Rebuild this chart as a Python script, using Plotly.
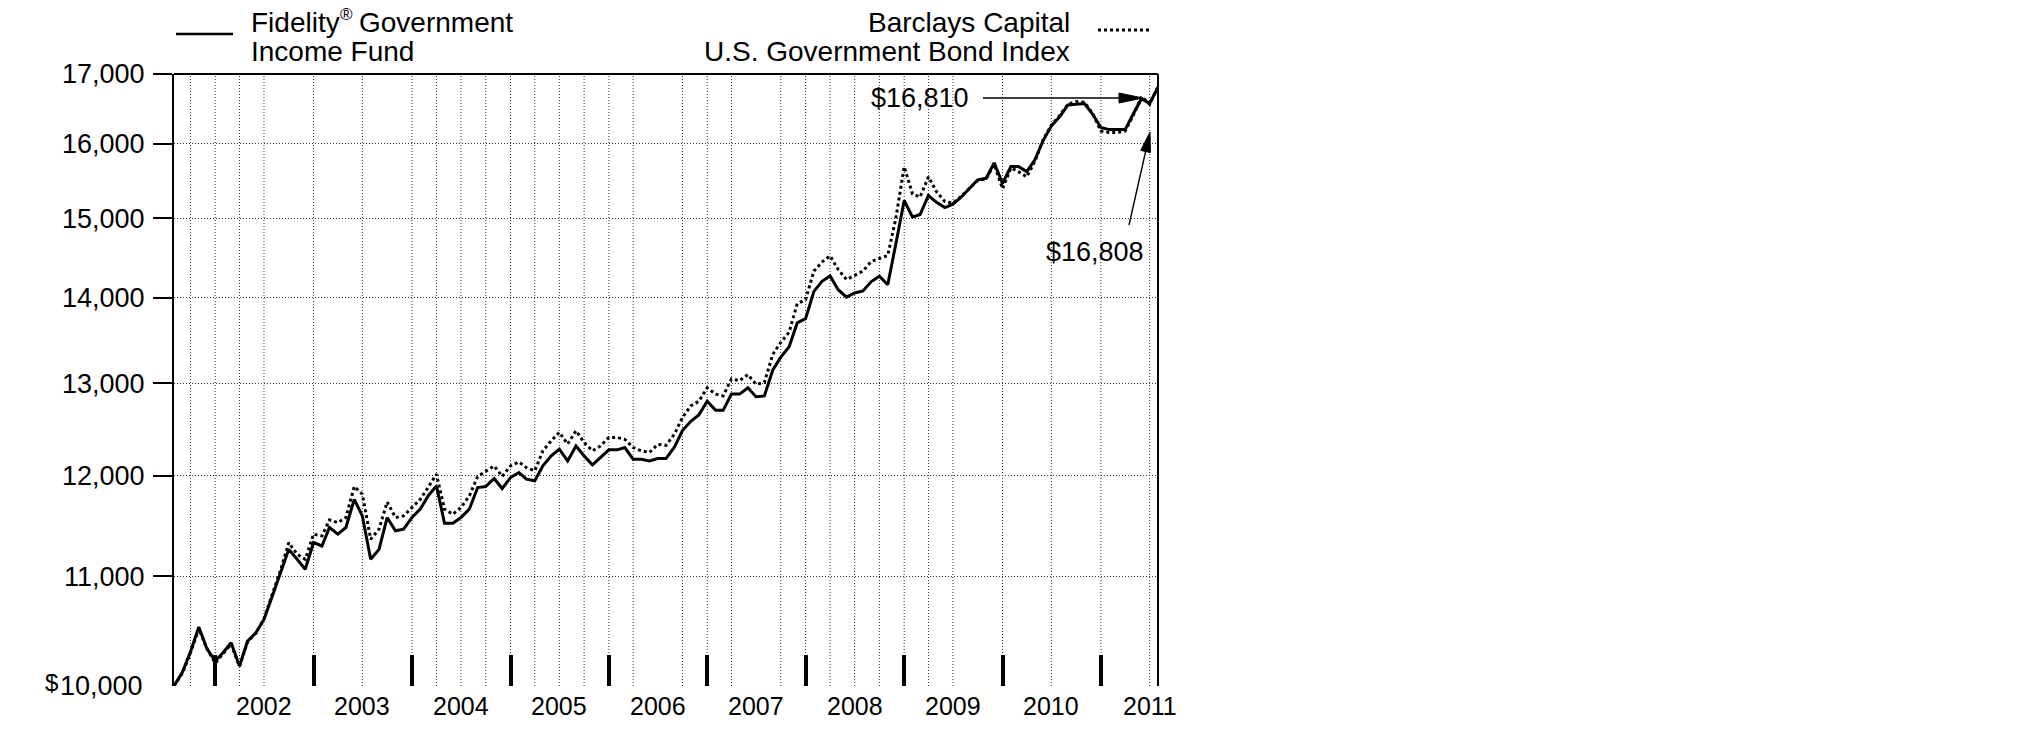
import math
import pandas as pd
import plotly.graph_objects as go

# ---------------- data ----------------
MONTHS = pd.date_range("2001-07-31", periods=121, freq="ME")

FUND = [
    10000, 10120, 10300, 10525, 10330, 10218, 10300, 10382, 10174, 10397,
    10472, 10594, 10811, 11033, 11258, 11161, 11065, 11324, 11291, 11473,
    11407, 11473, 11757, 11589, 11161, 11258, 11573, 11440, 11457, 11573,
    11657, 11791, 11895, 11516, 11516, 11573, 11657, 11878, 11888, 11971,
    11868, 11981, 12033, 11964, 11947, 12103, 12208, 12279, 12155, 12314,
    12208, 12114, 12190, 12272, 12272, 12297, 12173, 12173, 12155, 12180,
    12180, 12300, 12480, 12580, 12650, 12800, 12700, 12700, 12880, 12880,
    12950, 12850, 12860, 13150, 13300, 13420, 13700, 13750, 14080, 14200,
    14270, 14100, 14010, 14060, 14085, 14200, 14265, 14160, 14670, 15234,
    15016, 15050, 15300, 15210, 15140, 15185, 15280, 15400, 15510, 15530,
    15740, 15460, 15690, 15690, 15620, 15780, 16050, 16250, 16380, 16550,
    16560, 16570, 16420, 16230, 16200, 16200, 16200, 16420, 16640, 16570,
    16808,
]

INDEX = [
    10000, 10110, 10290, 10510, 10330, 10200, 10290, 10370, 10170, 10390,
    10470, 10600, 10830, 11060, 11324, 11210, 11161, 11407, 11390, 11549,
    11522, 11573, 11888, 11809, 11357, 11457, 11730, 11573, 11589, 11674,
    11757, 11878, 12016, 11657, 11606, 11674, 11791, 11992, 12051, 12103,
    11992, 12103, 12144, 12085, 12051, 12262, 12369, 12460, 12334, 12477,
    12352, 12262, 12314, 12405, 12405, 12385, 12297, 12262, 12245, 12330,
    12320, 12440, 12620, 12750, 12800, 12950, 12880, 12860, 13050, 13030,
    13100, 12990, 13010, 13330, 13470, 13590, 13930, 13980, 14330, 14440,
    14520, 14350, 14225, 14280, 14330, 14450, 14490, 14525, 15000, 15686,
    15320, 15280, 15550, 15350, 15220, 15200, 15290, 15400, 15500, 15520,
    15720, 15390, 15670, 15620, 15550, 15760, 16060, 16260, 16400, 16560,
    16600, 16590, 16430, 16180, 16160, 16160, 16180, 16400, 16670, 16560,
    16810,
]

Y_TICKS = [11000, 12000, 13000, 14000, 15000, 16000, 17000]
Y_TICK_TEXT = ["11,000", "12,000", "13,000", "14,000", "15,000", "16,000", "17,000"]
Y_BASE = 10000
Y_BASE_TEXT = "10,000"
CURRENCY = "$"

YEAR_LABEL_DATES = ["2002-06-30", "2003-06-30", "2004-06-30", "2005-06-30", "2006-06-30",
                    "2007-06-30", "2008-06-30", "2009-06-30", "2010-06-30", "2011-06-30"]
YEAR_LABELS = ["2002", "2003", "2004", "2005", "2006", "2007", "2008", "2009", "2010", "2011"]

YEAR_BOUNDARIES = ["2001-12-31", "2002-12-31", "2003-12-31", "2004-12-31", "2005-12-31",
                   "2006-12-31", "2007-12-31", "2008-12-31", "2009-12-31", "2010-12-31"]

GRID_DATES = ["2001-09-30", "2001-12-31", "2002-03-31", "2002-06-30", "2002-12-31",
              "2003-06-30", "2003-12-31", "2004-03-31", "2004-06-30", "2004-09-30",
              "2004-12-31", "2005-03-31", "2005-06-30", "2005-09-30", "2005-12-31",
              "2006-03-31", "2006-09-30", "2006-12-31", "2007-03-31", "2007-09-30",
              "2007-12-31", "2008-03-31", "2008-06-30", "2008-09-30", "2008-12-31",
              "2009-03-31", "2009-06-30", "2009-12-31", "2010-06-30", "2010-12-31",
              "2011-06-30"]

FUND_NAME_1A = "Fidelity"
FUND_NAME_REG = "®"
FUND_NAME_1B = "Government"
FUND_NAME_2 = "Income Fund"
INDEX_NAME_1 = "Barclays Capital"
INDEX_NAME_2 = "U.S. Government Bond Index"
FUND_END_LABEL = "$16,808"
INDEX_END_LABEL = "$16,810"

# ---------------- layout geometry ----------------
W, H = 2025, 743
L, R, T, B = 174, 867, 74, 57
PW, PH = W - L - R, H - T - B
FONT = "Liberation Sans, Arial, Helvetica, sans-serif"
GRID = "#333333"
GRID_DASH = "1px,2px"
LEG = 28


def px(xp):
    return (xp - L) / PW


def py(yp):
    return (H - B - yp) / PH


def arrow_shapes(tail, tip, head_len, half_w, width=1.4):
    dx, dy = tip[0] - tail[0], tip[1] - tail[1]
    n = math.hypot(dx, dy)
    ux, uy = dx / n, dy / n
    bx, by = tip[0] - ux * head_len, tip[1] - uy * head_len
    lx, ly = bx - uy * half_w, by + ux * half_w
    rx, ry = bx + uy * half_w, by - ux * half_w
    path = "M{:.5f},{:.5f} L{:.5f},{:.5f} L{:.5f},{:.5f} Z".format(
        px(tip[0]), py(tip[1]), px(lx), py(ly), px(rx), py(ry))
    return [
        dict(type="line", xref="paper", yref="paper", x0=px(tail[0]), y0=py(tail[1]),
             x1=px(bx + ux * 2), y1=py(by + uy * 2), line=dict(color="black", width=width)),
        dict(type="path", xref="paper", yref="paper", path=path, fillcolor="black",
             line=dict(color="black", width=1)),
    ]


def label(text, x, y, size, xanchor="left", yanchor="middle", xref="paper", yref="paper",
          yshift=0):
    return dict(text=text, xref=xref, yref=yref, x=x, y=y, xanchor=xanchor,
                yanchor=yanchor, showarrow=False, font=dict(size=size), yshift=yshift)


x_range = [MONTHS[0], MONTHS[-1]]
y_range = [math.log10(10000), math.log10(17000)]

fig = go.Figure()
fig.add_trace(go.Scatter(x=MONTHS, y=INDEX, mode="lines", name="Index",
                         line=dict(color="black", width=3, dash="dot")))
fig.add_trace(go.Scatter(x=MONTHS, y=FUND, mode="lines", name="Fund",
                         line=dict(color="black", width=3)))

fig.update_layout(
    width=W, height=H,
    margin=dict(l=L, r=R, t=T, b=B, pad=0),
    paper_bgcolor="white", plot_bgcolor="white",
    showlegend=False,
    font=dict(family=FONT, color="black", size=27),
    xaxis=dict(type="date", range=x_range, tickvals=YEAR_BOUNDARIES,
               ticks="inside", ticklen=31, tickwidth=4, tickcolor="black",
               showticklabels=False, showgrid=False, zeroline=False, showline=False),
    yaxis=dict(type="log", range=y_range, tickvals=Y_TICKS, ticktext=Y_TICK_TEXT,
               ticks="outside", ticklen=19, tickwidth=1.5, tickcolor="black",
               showgrid=True, gridcolor=GRID, gridwidth=1, griddash=GRID_DASH,
               showline=True, linecolor="black", linewidth=2, zeroline=False,
               tickfont=dict(size=27), ticklabelstandoff=3),
)

shapes = []
for d in GRID_DATES:
    shapes.append(dict(type="line", xref="x", yref="paper", x0=d, x1=d, y0=0, y1=1,
                       layer="below", line=dict(color=GRID, width=1, dash=GRID_DASH)))
shapes += [
    dict(type="line", xref="paper", yref="paper", x0=0, x1=1, y0=1, y1=1,
         line=dict(color="black", width=2)),
    dict(type="line", xref="paper", yref="paper", x0=1, x1=1, y0=0, y1=1,
         line=dict(color="black", width=2)),
    dict(type="line", xref="paper", yref="paper", x0=px(176), x1=px(233),
         y0=py(34), y1=py(34), line=dict(color="black", width=2.5)),
    dict(type="line", xref="paper", yref="paper", x0=px(1098), x1=px(1152),
         y0=py(30), y1=py(30), line=dict(color="black", width=3, dash="dot")),
]
shapes += arrow_shapes((983, 98), (1143, 98), 24, 5)
shapes += arrow_shapes((1129, 225), (1150, 132), 20, 5)
fig.update_layout(shapes=shapes)

annotations = [
    label(FUND_NAME_1A, px(249), py(22), LEG),
    label(FUND_NAME_REG, px(338), py(15), 17),
    label(FUND_NAME_1B, px(357), py(22), LEG),
    label(FUND_NAME_2, px(249), py(52), LEG),
    label(INDEX_NAME_1, px(1072), py(22), LEG, xanchor="right"),
    label(INDEX_NAME_2, px(1072), py(52), LEG, xanchor="right"),
    label(INDEX_END_LABEL, px(920), py(98), 27, xanchor="center"),
    label(FUND_END_LABEL, px(1095), py(252), 27, xanchor="center"),
    label(Y_BASE_TEXT, px(145), math.log10(Y_BASE), 27, xanchor="right", yref="y"),
    label(CURRENCY, px(60), math.log10(Y_BASE), 24, xanchor="right", yref="y", yshift=4),
]
for d, lab in zip(YEAR_LABEL_DATES, YEAR_LABELS):
    annotations.append(label(lab, d, py(706), 25, xanchor="center", xref="x"))
fig.update_layout(annotations=annotations)

fig.write_html("out.html")
